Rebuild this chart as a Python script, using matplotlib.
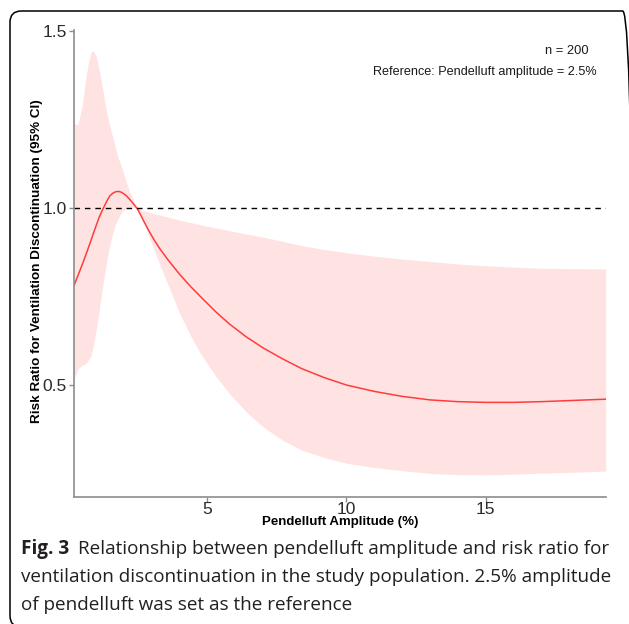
"""
Risk ratio vs pendelluft amplitude (restricted cubic spline), Fig. 3.
"""

import matplotlib
matplotlib.use("Agg")
import matplotlib.pyplot as plt
from matplotlib.patches import FancyBboxPatch

# Valeurs
amplitude = [0.2, 0.35, 0.5, 0.65, 0.8, 0.9, 1.0, 1.1, 1.2, 1.3, 1.4, 1.5, 1.6, 1.7,
             1.8, 1.9, 2.0, 2.1, 2.2, 2.3, 2.4, 2.5, 2.7, 2.9, 3.1, 3.3, 3.6, 4.0,
             4.4, 4.8, 5.3, 5.8, 6.4, 7.0, 7.7, 8.4, 9.2, 10.0, 11.0, 12.0, 13.0,
             14.0, 15.0, 16.0, 17.0, 18.0, 19.32]
risk_ratio = [0.78, 0.81, 0.84, 0.872, 0.905, 0.928, 0.95, 0.972, 0.99, 1.006, 1.022,
              1.035, 1.042, 1.046, 1.047, 1.045, 1.04, 1.034, 1.025, 1.016, 1.006,
              0.996, 0.965, 0.935, 0.908, 0.884, 0.852, 0.813, 0.778, 0.746, 0.707,
              0.672, 0.636, 0.605, 0.574, 0.546, 0.521, 0.5, 0.482, 0.468, 0.458,
              0.453, 0.451, 0.451, 0.453, 0.456, 0.46]
ci_upper = [1.239, 1.236, 1.29, 1.38, 1.438, 1.445, 1.43, 1.395, 1.353, 1.305, 1.262,
            1.23, 1.2, 1.168, 1.14, 1.12, 1.095, 1.07, 1.047, 1.03, 1.012, 1.0,
            0.993, 0.988, 0.984, 0.98, 0.974, 0.966, 0.959, 0.952, 0.944, 0.936,
            0.927, 0.918, 0.906, 0.894, 0.883, 0.874, 0.864, 0.856, 0.849, 0.842,
            0.837, 0.833, 0.83, 0.829, 0.828]
ci_lower = [0.514, 0.546, 0.556, 0.562, 0.58, 0.61, 0.655, 0.705, 0.76, 0.81, 0.858,
            0.898, 0.93, 0.955, 0.972, 0.985, 0.994, 0.999, 1.002, 1.003, 1.002, 1.0,
            0.962, 0.92, 0.878, 0.838, 0.78, 0.703, 0.638, 0.583, 0.525, 0.475,
            0.424, 0.382, 0.344, 0.316, 0.295, 0.279, 0.267, 0.258, 0.25, 0.247,
            0.246, 0.248, 0.251, 0.253, 0.257]
x_ticks = [5, 10, 15]
y_ticks = [0.5, 1.0, 1.5]
ref_ratio = 1.0

caption_bold = "Fig. 3"
caption_lines = ["Relationship between pendelluft amplitude and risk ratio for",
                 "ventilation discontinuation in the study population. 2.5% amplitude",
                 "of pendelluft was set as the reference"]

W, H = 629, 624
fig = plt.figure(figsize=(W / 100, H / 100), dpi=100)
fig.patch.set_facecolor("white")

# cadre arrondi autour de la figure (bords droit et bas hors image)
cadre = FancyBboxPatch((10 / W, -3 / H), 624 / W, 616 / H,
                       boxstyle="round,pad=0,rounding_size=0.018",
                       transform=fig.transFigure, facecolor="none",
                       edgecolor="black", linewidth=1.1, clip_on=False)
fig.patches.append(cadre)

ax = fig.add_axes([74 / W, 127.3 / H, 532 / W, 466.7 / H])
ax.fill_between(amplitude, ci_lower, ci_upper, color="#FFE3E3", linewidth=0)
ax.plot(amplitude, risk_ratio, color="#FF3C3C", linewidth=1.1)
ax.axhline(ref_ratio, color="black", linewidth=1.0, linestyle=(0, (4, 3.5)))

ax.set_xlim(0.205, 19.33)
ax.set_ylim(0.1845, 1.503)
ax.set_xticks(x_ticks)
ax.set_yticks(y_ticks)
ax.set_yticklabels(["0.5", "1.0", "1.5"])

for side in ("top", "right"):
    ax.spines[side].set_visible(False)
for side in ("left", "bottom"):
    ax.spines[side].set_color("#8C8C8C")
    ax.spines[side].set_linewidth(1.2)
ax.tick_params(axis="both", colors="#8C8C8C", length=3.5, width=1.0,
               labelcolor="#2B2B2B", labelsize=12.5)
ax.tick_params(axis="x", pad=0.5)
ax.tick_params(axis="y", pad=1.5)
for lab in ax.get_xticklabels() + ax.get_yticklabels():
    lab.set_family("Liberation Sans")

ax.set_ylabel("Risk Ratio for Ventilation Discontinuation (95% CI)",
              family="Liberation Sans", fontweight="bold", fontsize=9.7)
ax.yaxis.set_label_coords(-0.058, 0.505)
ax.set_xlabel("Pendelluft Amplitude (%)", family="Liberation Sans",
              fontweight="bold", fontsize=9.5)
ax.xaxis.set_label_coords(0.5, -0.054)
ax.xaxis.label.set_va("center")

fig.text(589 / W, 1 - 51 / H, "n = 200", ha="right", va="center",
         family="Liberation Sans", fontsize=9.3, color="#1A1A1A")
fig.text(597 / W, 1 - 72 / H, "Reference: Pendelluft amplitude = 2.5%", ha="right",
         va="center", family="Liberation Sans", fontsize=9.1, color="#1A1A1A")

# legende de la figure (texte en dessous)
x0 = 21 / W
baselines = [554.3, 582.3, 610.3]
t_bold = fig.text(x0, 1 - baselines[0] / H, caption_bold, ha="left", va="baseline",
                  family="Open Sans", fontweight="bold", fontsize=13.6, color="#231F20")
fig.canvas.draw()
bb = t_bold.get_window_extent()
fig.text((bb.x1 + 9) / W, 1 - baselines[0] / H, caption_lines[0], ha="left",
         va="baseline", family="Open Sans", fontsize=13.6, color="#231F20")
for ligne, yb in zip(caption_lines[1:], baselines[1:]):
    fig.text(x0, 1 - yb / H, ligne, ha="left", va="baseline",
             family="Open Sans", fontsize=13.6, color="#231F20")

fig.savefig("out.png", dpi=100, facecolor="white")
